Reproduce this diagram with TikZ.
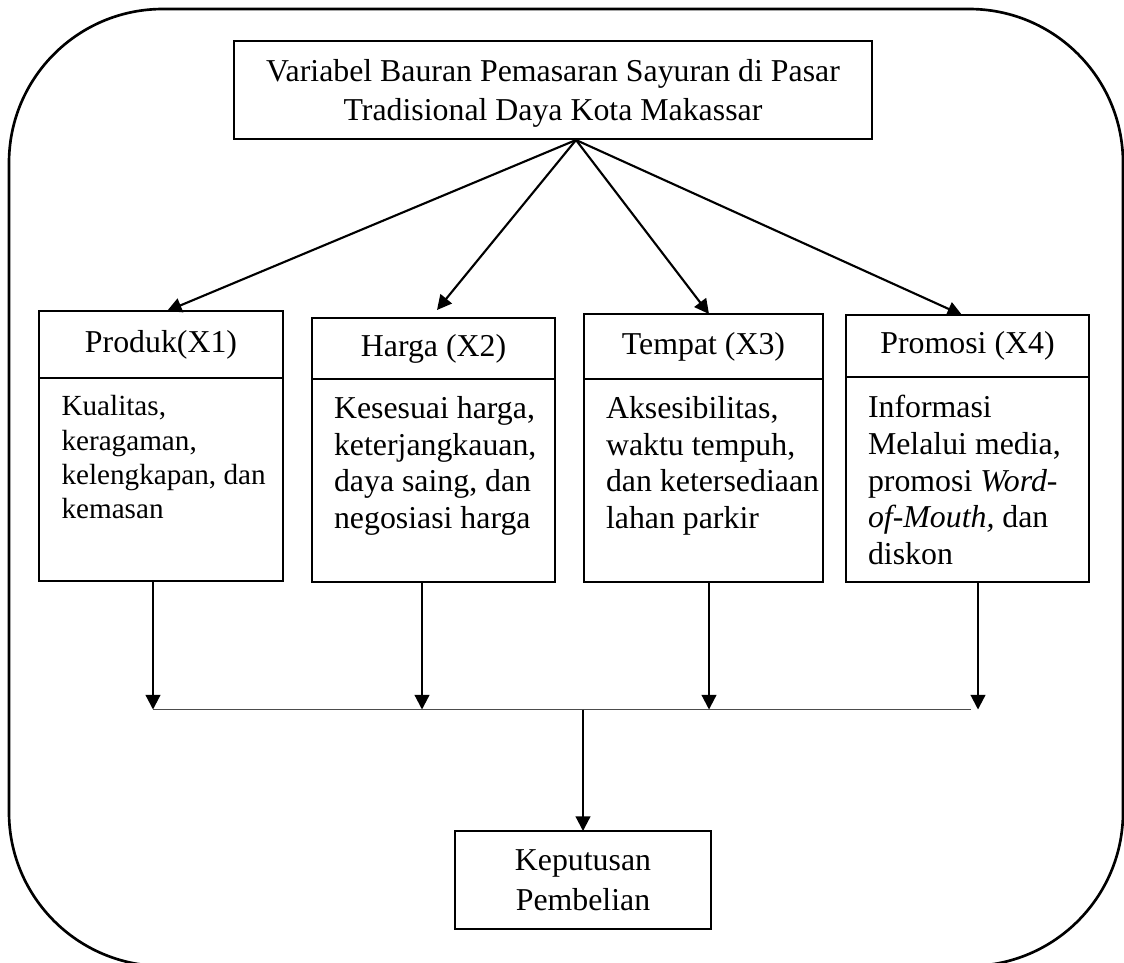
\documentclass[tikz,border=0pt]{standalone}
\usepackage{fontspec}
\setmainfont{Liberation Serif}
\usetikzlibrary{arrows.meta,positioning}
\newcommand{\pxu}{0.377pt}
\tikzset{
  kotak/.style={draw, line width=0.8pt, inner sep=0pt, outer sep=0pt, font=\fontsize{12}{15}\selectfont},
  judul/.style={kotak, align=center},
  isi/.style={inner sep=0pt, align=left, anchor=north west, font=\fontsize{12}{13.8}\selectfont},
  panah/.style={line width=0.8pt, -{Triangle[length=5.5pt,width=5.5pt]}},
}
\begin{document}
\begin{tikzpicture}[x=\pxu, y=-\pxu]
\useasboundingbox (0,0) rectangle (1124,962);
%\draw[step=50,gray,very thin] (0,0) grid (1124,962);
% bingkai luar
\draw[line width=1pt, rounded corners=58pt] (9,9) rectangle (1123,966);
% variabel utama
\node[judul, text depth=0pt, minimum width=638*\pxu, minimum height=98*\pxu] (variabel) at (553,90) {Variabel Bauran Pemasaran Sayuran di Pasar\\Tradisional Daya Kota Makassar};
\coordinate (puncak) at (576,140);
% empat kartu
\node[judul, minimum width=244*\pxu, minimum height=67*\pxu] (produk) at (161,344.5) {Produk(X1)};
\node[kotak, minimum width=244*\pxu, minimum height=203*\pxu, anchor=north] (produkIsi) at (produk.south) {};
\node[judul, minimum width=243*\pxu, minimum height=61*\pxu] (harga) at (433.5,348.5) {Harga (X2)};
\node[kotak, minimum width=243*\pxu, minimum height=203*\pxu, anchor=north] (hargaIsi) at (harga.south) {};
\node[judul, minimum width=239*\pxu, minimum height=65*\pxu] (tempat) at (703.5,346.5) {Tempat (X3)};
\node[kotak, minimum width=239*\pxu, minimum height=203*\pxu, anchor=north] (tempatIsi) at (tempat.south) {};
\node[judul, minimum width=243*\pxu, minimum height=62*\pxu] (promosi) at (967.5,346) {Promosi (X4)};
\node[kotak, minimum width=243*\pxu, minimum height=205*\pxu, anchor=north] (promosiIsi) at (promosi.south) {};
% isi kartu
\node[isi, font=\fontsize{11}{12.9}\selectfont] (produkTeks) at ([xshift=22*\pxu, yshift=-17*\pxu]produkIsi.north west) {Kualitas,\\keragaman,\\kelengkapan, dan\\kemasan};
\node[isi] (hargaTeks) at ([xshift=21.5*\pxu, yshift=-17*\pxu]hargaIsi.north west) {Kesesuai harga,\\keterjangkauan,\\daya saing, dan\\negosiasi harga};
\node[isi] (tempatTeks) at ([xshift=21.5*\pxu, yshift=-17*\pxu]tempatIsi.north west) {Aksesibilitas,\\waktu tempuh,\\dan ketersediaan\\lahan parkir};
\node[isi] (promosiTeks) at ([xshift=21.5*\pxu, yshift=-18*\pxu]promosiIsi.north west) {Informasi\\Melalui media,\\promosi \textit{Word-}\\\textit{of-Mouth,} dan\\diskon};
% keputusan
\node[judul, minimum width=256*\pxu, minimum height=98*\pxu] (keputusan) at (583,880) {Keputusan\\Pembelian};
\coordinate (kiri) at (153,709.5);
\coordinate (kanan) at (971,709.5);
% panah dari variabel
\draw[panah] (puncak) -- ([xshift=6*\pxu]produk.north);
\draw[panah] (puncak) -- ([xshift=3.5*\pxu, yshift=8*\pxu]harga.north);
\draw[panah] (puncak) -- ([xshift=5.5*\pxu]tempat.north);
\draw[panah] (puncak) -- ([xshift=-5.5*\pxu]promosi.north);
% panah ke garis
\draw[panah] ([xshift=-8*\pxu]produkIsi.south) -- ([xshift=-8*\pxu]produkIsi.south |- kiri);
\draw[panah] ([xshift=-11.5*\pxu]hargaIsi.south) -- ([xshift=-11.5*\pxu]hargaIsi.south |- kiri);
\draw[panah] ([xshift=5.5*\pxu]tempatIsi.south) -- ([xshift=5.5*\pxu]tempatIsi.south |- kiri);
\draw[panah] ([xshift=10.5*\pxu]promosiIsi.south) -- ([xshift=10.5*\pxu]promosiIsi.south |- kiri);
\draw[line width=0.6pt, black!70] (kiri) -- (kanan);
\draw[panah] (keputusan.north |- kiri) -- (keputusan.north);
\end{tikzpicture}
\end{document}
